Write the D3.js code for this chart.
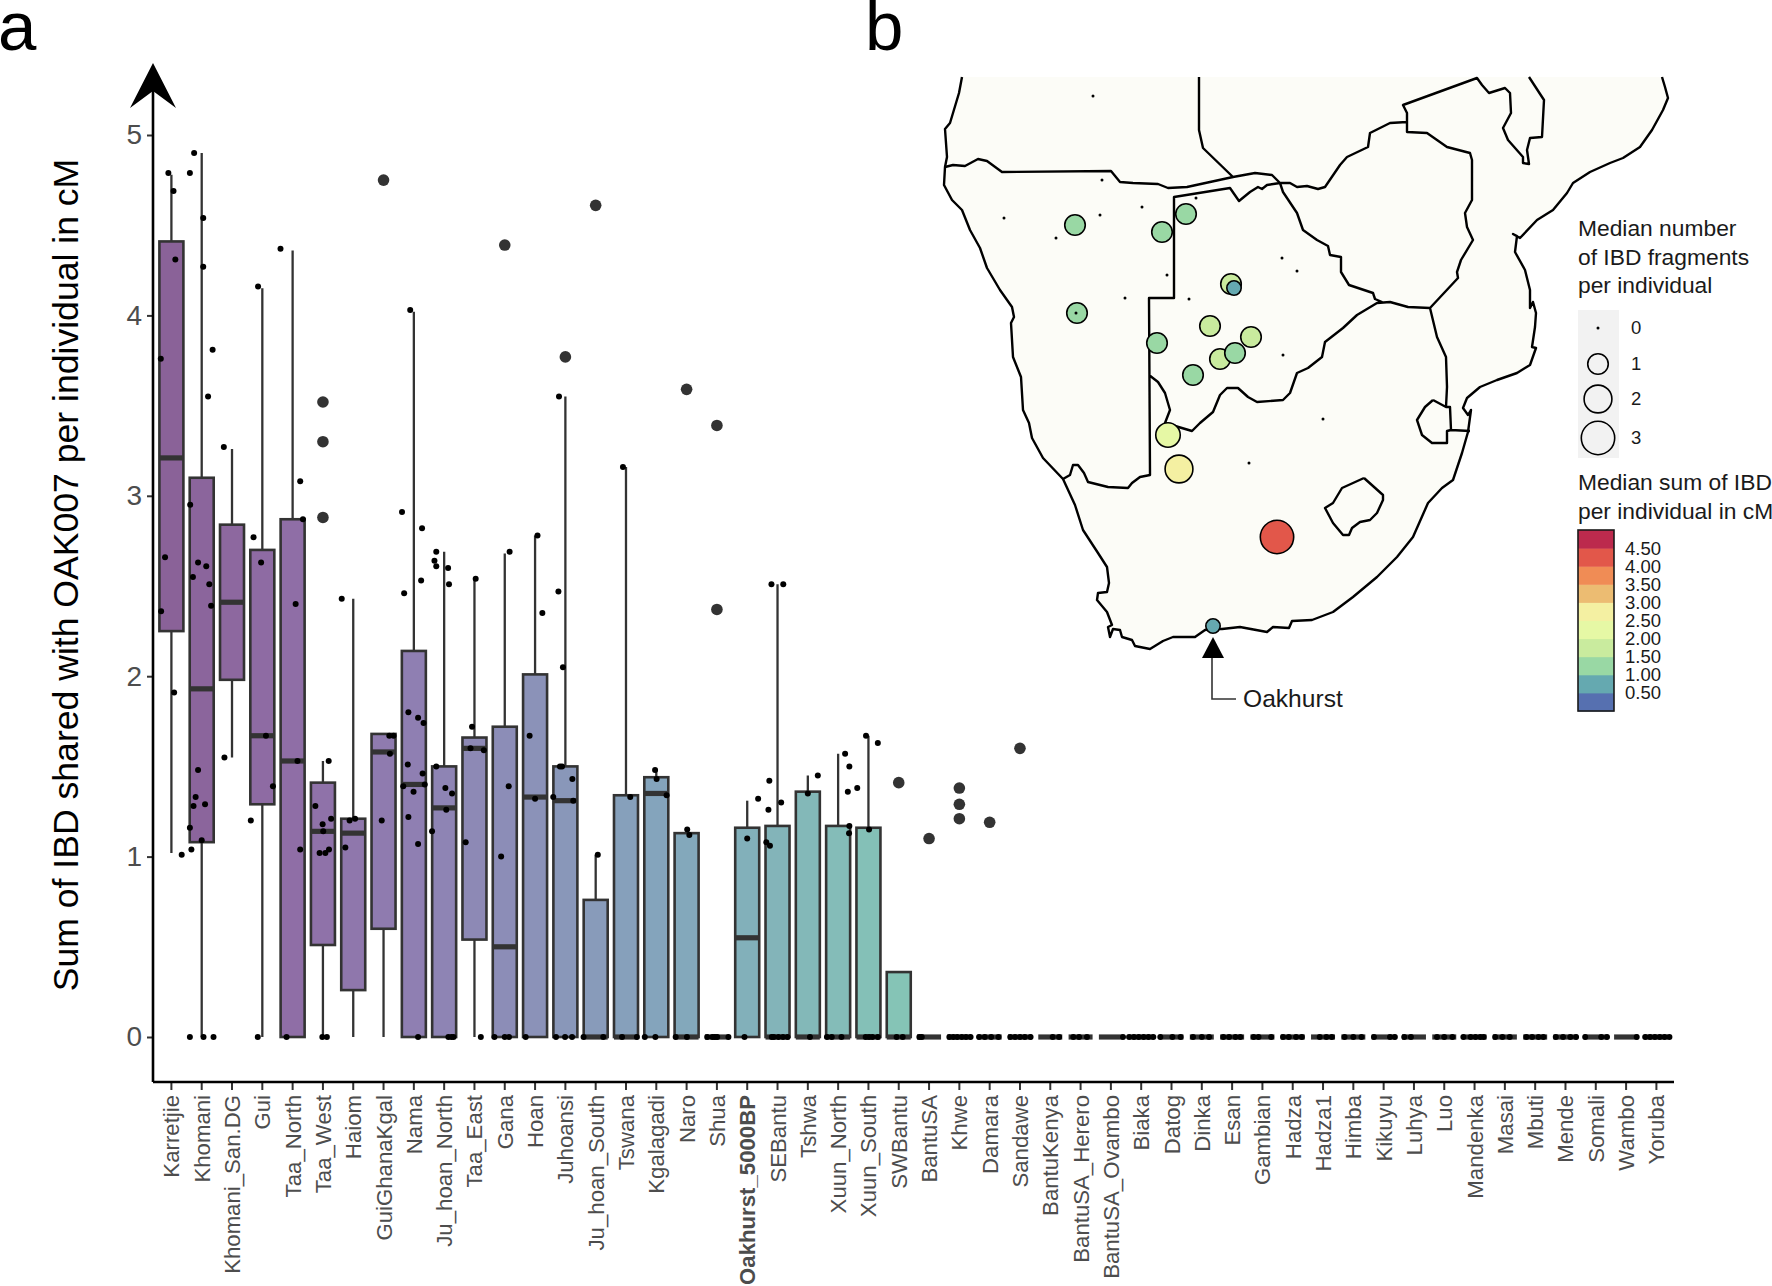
<!DOCTYPE html>
<html>
<head>
<meta charset="utf-8">
<script src="https://cdn.jsdelivr.net/npm/d3@7"></script>
<style>
  html, body { margin: 0; background: #fff; }
  text { font-family: "Liberation Sans", Arial, sans-serif; }
</style>
</head>
<body>
<div id="plot-container"></div>
<script>
const categories = ["Karretjie","Khomani","Khomani_San.DG","Gui","Taa_North","Taa_West","Haiom","GuiGhanaKgal","Nama","Ju_hoan_North","Taa_East","Gana","Hoan","Juhoansi","Ju_hoan_South","Tswana","Kgalagadi","Naro","Shua","Oakhurst_5000BP","SEBantu","Tshwa","Xuun_North","Xuun_South","SWBantu","BantuSA","Khwe","Damara","Sandawe","BantuKenya","BantuSA_Herero","BantuSA_Ovambo","Biaka","Datog","Dinka","Esan","Gambian","Hadza","Hadza1","Himba","Kikuyu","Luhya","Luo","Mandenka","Masai","Mbuti","Mende","Somali","Wambo","Yoruba"];

// box stats for the groups that have a real box, the rest sit on zero
const q1 =          [2.25,1.08,1.98,1.29,0,   0.51,0.26,0.60,0,   0,   0.54,0,   0,   0,   0,   0,   0,   0,   0,0,   0,   0,   0,   0,   0];
const medians =     [3.21,1.93,2.41,1.67,1.53,1.14,1.13,1.58,1.40,1.27,1.60,0.50,1.33,1.31,0,   0,   1.35,0,   0,0.55,0,   0,   0,   0,   0];
const q3 =          [4.41,3.10,2.84,2.70,2.87,1.41,1.21,1.68,2.14,1.50,1.66,1.72,2.01,1.50,0.76,1.34,1.44,1.13,0,1.16,1.17,1.36,1.17,1.16,0.36];
const whiskerLow =  [1.02,0,   1.55,0,   0,   0,   0,   0,   0,   0,   0,   0,   0,   0,   0,   0,   0,   0,   0,0,   0,   0,   0,   0,   0];
const whiskerHigh = [4.78,4.90,3.26,4.15,4.36,1.53,2.43,1.68,4.02,2.69,2.54,2.68,2.78,3.55,1.01,3.16,1.48,1.13,0,1.31,2.51,1.45,1.57,1.67,0.36];

const outliers = {
  Taa_West: [2.88,3.30,3.52], GuiGhanaKgal: [4.75], Gana: [4.39], Juhoansi: [3.77],
  Ju_hoan_South: [4.61], Naro: [3.59], Shua: [3.39,2.37], SWBantu: [1.41],
  BantuSA: [1.10], Khwe: [1.38,1.29,1.21], Damara: [1.19], Sandawe: [1.60]
};

// jittered individuals: [offset in category steps, value]
const jitter = {
  Karretjie: [[-.1,4.79],[.07,4.69],[.13,4.31],[-.35,3.76],[-.21,2.66],[-.34,2.36],[.09,1.91],[.34,1.01]],
  Khomani: [[-.25,4.9],[-.39,4.79],[.05,4.54],[.05,4.27],[.36,3.81],[.21,3.55],[-.38,2.95],[-.12,2.63],[.15,2.61],[-.29,2.55],[.25,2.51],[.31,2.39],[-.12,1.48],[-.2,1.33],[-.27,1.28],[.11,1.29],[-.39,1.16],[-.34,1.04],[0,1.09],[-.39,0],[.06,0],[.39,0]],
  "Khomani_San.DG": [[-.27,3.27],[-.25,1.55]],
  Gui: [[-.14,4.16],[-.29,2.77],[-.04,2.63],[.12,1.67],[.35,1.39],[-.38,1.2],[-.15,0]],
  Taa_North: [[-.4,4.37],[.25,3.08],[.34,2.87],[.1,2.4],[.16,1.53],[.25,1.04],[-.2,0]],
  Taa_West: [[.19,1.53],[-.25,1.28],[.27,1.21],[-.01,1.18],[.01,1.14],[-.11,1.02],[.08,1.02],[.2,1.04],[-.02,0],[.13,0]],
  Haiom: [[-.38,2.43],[-.12,1.2],[.06,1.21],[-.26,1.05]],
  GuiGhanaKgal: [[.19,1.67],[.33,1.67],[.21,1.57],[-.06,1.2]],
  Nama: [[-.39,2.91],[-.12,4.03],[.27,2.82],[-.32,2.46],[.24,2.53],[-.18,1.8],[.14,1.77],[.32,1.74],[-.2,1.51],[.29,1.46],[-.35,1.39],[.36,1.4],[-.01,1.36],[-.18,1.22],[.14,1.07],[.14,0]],
  Ju_hoan_North: [[-.26,2.69],[-.32,2.64],[-.26,2.61],[.13,2.6],[.16,2.51],[-.26,1.5],[.04,1.38],[.26,1.35],[.07,1.26],[-.4,1.14],[.14,0],[.24,0],[.31,0]],
  Taa_East: [[.04,2.54],[-.08,1.72],[-.13,1.6],[.31,1.59],[-.29,1.08],[.21,0]],
  Gana: [[.16,2.69],[.13,1.39],[-.12,1],[-.34,0],[0,0],[.14,0]],
  Hoan: [[.08,2.78],[.24,2.35],[-.18,1.67],[0,1.32],[-.31,0]],
  Juhoansi: [[-.21,3.55],[-.23,2.47],[-.08,2.05],[-.18,1.5],[-.11,1.5],[.23,1.43],[-.4,1.33],[.26,1.31],[-.31,0],[-.01,0],[.22,0]],
  Ju_hoan_South: [[.07,1.01],[-.4,0],[.25,0]],
  Tswana: [[-.1,3.16],[.14,1.33],[-.13,0],[.36,0]],
  Kgalagadi: [[-.04,1.48],[.01,1.43],[.34,1.34],[-.38,0],[-.03,0]],
  Naro: [[.02,1.15],[.09,1.12],[-.36,0],[.01,0]],
  Shua: [[-.32,0],[-.15,0],[-.07,0],[.01,0],[.38,0]],
  Oakhurst_5000BP: [[0,1.1],[.36,1.32],[-.09,0]],
  SEBantu: [[-.2,2.51],[.19,2.51],[-.27,1.42],[.12,1.3],[-.3,1.26],[-.37,1.08],[-.25,1.06],[-.19,0],[-.12,0],[.03,0],[.18,0],[.33,0]],
  Tshwa: [[.33,1.45],[0,1.35],[.07,0]],
  Xuun_North: [[.23,1.57],[.37,1.5],[.32,1.36],[.37,1.17],[.36,1.13],[-.37,0],[-.21,0],[.11,0]],
  Xuun_South: [[-.08,1.67],[.31,1.63],[-.37,1.38],[.02,1.15],[-.09,0],[.02,0],[.13,0],[.31,0]],
  SWBantu: [[-.07,0],[.13,0]],
  BantuSA: [[-.32,0],[-.24,0]],
  Khwe: [[-.33,0],[-.2,0],[-.07,0],[.08,0],[.22,0],[.37,0]],
  Damara: [[-.35,0],[-.16,0],[.05,0],[.29,0]],
  Sandawe: [[-.32,0],[-.16,0],[0,0],[.16,0],[.35,0]],
  BantuKenya: [[.08,0],[.29,0]],
  BantuSA_Herero: [[-.24,0],[-.05,0],[.21,0]],
  BantuSA_Ovambo: [[.4,0]],
  Biaka: [[-.4,0],[-.24,0],[-.08,0],[.08,0],[.24,0],[.4,0]],
  Datog: [[-.37,0],[.03,0],[.3,0]],
  Dinka: [[-.29,0],[0,0],[.24,0]],
  Esan: [[-.29,0],[-.1,0],[.11,0],[.27,0]],
  Gambian: [[-.29,0],[-.13,0],[.29,0]],
  Hadza: [[-.32,0],[-.13,0],[.11,0],[.3,0]],
  Hadza1: [[-.11,0],[.11,0],[.29,0]],
  Himba: [[-.29,0],[0,0],[.27,0]],
  Kikuyu: [[-.32,0],[.21,0],[.37,0]],
  Luhya: [[-.32,0],[-.1,0]],
  Luo: [[-.24,0],[0,0],[.27,0]],
  Mandenka: [[-.37,0],[-.13,0],[.03,0],[.19,0],[.3,0]],
  Masai: [[-.32,0],[-.08,0],[.16,0]],
  Mbuti: [[-.29,0],[-.1,0],[.11,0],[.27,0]],
  Mende: [[-.32,0],[-.08,0],[.16,0],[.35,0]],
  Somali: [[-.35,0],[.18,0],[.37,0]],
  Wambo: [[.35,0]],
  Yoruba: [[-.37,0],[-.21,0],[-.05,0],[.11,0],[.27,0],[.43,0]]
};

const boxColors = ["#8a6298","#8f6ea6","#8f7fb2","#8b92b8","#84a4bc","#82b0ba","#85c4b6"];
const boxColorIndex = [0,4,8,12,16,19,24];

// traced map outlines, planar map coordinates
const landOutline = [[962,77],[959,93],[953,113],[950,123],[945,129],[947,157],[945,167],[944,185],[952,200],[962,210],[970,230],[980,248],[987,268],[1000,290],[1012,307],[1014,317],[1011,323],[1013,357],[1021,377],[1023,410],[1029,423],[1032,438],[1043,458],[1063,479],[1075,505],[1083,530],[1098,553],[1107,567],[1109,583],[1107,592],[1098,593],[1097,600],[1107,612],[1112,625],[1108,627],[1110,637],[1113,629],[1120,630],[1122,637],[1132,640],[1135,646],[1150,649],[1163,641],[1173,637],[1195,637],[1205,630],[1213,629],[1222,629],[1240,627],[1267,632],[1273,627],[1289,628],[1292,621],[1312,620],[1333,612],[1353,597],[1377,577],[1397,557],[1413,537],[1428,503],[1442,488],[1453,480],[1462,453],[1468,432],[1471,410],[1468,415],[1463,408],[1467,398],[1480,387],[1497,380],[1517,373],[1530,365],[1536,348],[1532,347],[1535,327],[1536,313],[1533,302],[1530,308],[1530,290],[1525,270],[1515,252],[1517,236],[1513,234],[1520,238],[1537,220],[1553,210],[1567,193],[1573,183],[1590,172],[1610,163],[1623,158],[1640,147],[1652,130],[1663,110],[1668,98],[1665,87],[1662,77]];

const borderLines = [
  [[945,167],[953,165],[965,166],[978,159],[987,161],[1002,172],[1111,171],[1120,182],[1133,183],[1158,184],[1168,188],[1187,187],[1233,177],[1255,173],[1272,175],[1280,183],[1290,183],[1297,187],[1307,186],[1318,189],[1325,187],[1340,165],[1347,157],[1368,147],[1370,133],[1390,123],[1407,122]],
  [[1199,77],[1199,130],[1203,148],[1233,177]],
  [[1280,183],[1267,185],[1262,189],[1258,187],[1250,192],[1239,201],[1230,188],[1174,197],[1174,298],[1149,298],[1150,475],[1140,477],[1132,483],[1128,488],[1108,487],[1088,482],[1084,473],[1078,465],[1073,465],[1070,475],[1063,479]],
  [[1149,375],[1158,382],[1165,393],[1170,410],[1165,423],[1192,431],[1200,423],[1213,412],[1220,395],[1227,388],[1238,388],[1248,397],[1257,402],[1283,400],[1290,393],[1297,373],[1308,368],[1322,357],[1325,342],[1343,328],[1357,315],[1377,303],[1390,302],[1408,307],[1430,308]],
  [[1280,183],[1283,192],[1297,213],[1303,230],[1317,240],[1328,246],[1330,255],[1341,257],[1341,272],[1349,285],[1373,293],[1375,299],[1382,302]],
  [[1430,308],[1458,278],[1457,272],[1461,260],[1473,240],[1467,227],[1465,213],[1472,200],[1472,160],[1470,153],[1447,147],[1437,140],[1427,133],[1407,132],[1407,113],[1403,105],[1477,78],[1482,85],[1489,93],[1505,88],[1510,93],[1511,113],[1503,128],[1508,140],[1523,157],[1523,163],[1529,164],[1527,150],[1530,138],[1542,137],[1544,100],[1529,77]],
  [[1430,308],[1437,337],[1446,357],[1447,387],[1446,407]],
  [[1433,400],[1446,407],[1450,407],[1451,430],[1447,431],[1447,443],[1432,443],[1422,435],[1417,420],[1425,407],[1433,400]],
  [[1451,430],[1470,431]],
  [[1364,478],[1383,495],[1383,500],[1377,513],[1370,520],[1360,522],[1352,528],[1349,535],[1343,535],[1333,523],[1325,508],[1333,503],[1342,488],[1353,483],[1364,478]]
];

// [map x, map y, median fragments, median sum]
const sites = [
  [1093,96,0,0],[1102,180,0,0],[1142,207,0,0],[1100,215,0,0],[1004,218,0,0],[1056,238,0,0],[1196,198,0,0],[1167,275,0,0],[1125,298,0,0],[1189,299,0,0],[1282,258,0,0],[1297,271,0,0],[1283,355,0,0],[1323,419,0,0],[1249,463,0,0],
  [1075,225,1,1.2],[1162,232,1,1.2],[1186,214,1,1.2],[1231,284,1,1.7],[1234,288,.42,.8],[1077,313,1,1.2],[1210,326,1,1.7],[1251,337,1,1.7],[1157,343,1,1.2],[1220,359,1,1.7],[1235,353,1,1.2],[1193,375,1,1.2],
  [1168,435,1.5,2.2],[1179,469,2,2.7],[1277,537,3,4.2],[1213,626,.42,.8],[1076,313,0,0]
];
const oakhurstSite = [1213,626];

const sizeLegend = [0,1,2,3];
const sizeLegendY = [0,36,71,110];
const colorThresholds = [0.5,1,1.5,2,2.5,3,3.5,4,4.5];
const colorRange = ["#5670b0","#65a9b0","#99d8a4","#c9eb9e","#e6f8a5","#f4f0a2","#ecbc72","#f08c55","#e2574a","#bc2a4d"];
const colorLabels = ["0.50","1.00","1.50","2.00","2.50","3.00","3.50","4.00","4.50"];

const width = 1772, height = 1286;
const svg = d3.select("#plot-container").append("svg")
  .attr("width", width).attr("height", height).style("display", "block");

// ---- panel a
const x = d3.scalePoint().domain(categories).range([171.4, 1656.4]);
const y = d3.scaleLinear().domain([0, 5]).range([1037, 135]);
const boxFill = d3.scaleLinear().domain(boxColorIndex).range(boxColors);
const boxWidth = 24;
const dark = "#333333";

const boxes = svg.append("g");
categories.forEach((name, i) => {
  const cx = x(name);
  const g = boxes.append("g");
  const low = i < q1.length ? q1[i] : 0, mid = i < q1.length ? medians[i] : 0, high = i < q1.length ? q3[i] : 0;
  if (i < q1.length) {
    g.append("line").attr("x1", cx).attr("x2", cx).attr("y1", y(whiskerLow[i])).attr("y2", y(whiskerHigh[i]))
      .attr("stroke", dark).attr("stroke-width", 2.3);
  }
  g.append("rect").attr("x", cx - boxWidth / 2).attr("width", boxWidth)
    .attr("y", y(high)).attr("height", y(low) - y(high))
    .attr("fill", i < q1.length ? boxFill(i) : "none").attr("stroke", dark).attr("stroke-width", 2.6);
  g.append("line").attr("x1", cx - boxWidth / 2).attr("x2", cx + boxWidth / 2).attr("y1", y(mid)).attr("y2", y(mid))
    .attr("stroke", dark).attr("stroke-width", 5.2);
  g.selectAll(".outlier").data(outliers[name] || []).join("circle").attr("class", "outlier")
    .attr("cx", cx).attr("cy", d => y(d)).attr("r", 5.8).attr("fill", dark);
});

svg.append("g").selectAll("circle")
  .data(categories.flatMap(name => (jitter[name] || []).map(p => [x(name) + p[0] * x.step(), p[1]])))
  .join("circle")
  .attr("cx", d => d[0]).attr("cy", d => y(d[1])).attr("r", 3).attr("fill", "#000");

// axes
const yAxis = svg.append("g").attr("transform", "translate(153,0)")
  .call(d3.axisLeft(y).tickValues([0,1,2,3,4,5]).tickFormat(d3.format("d")).tickSize(6).tickPadding(5));
yAxis.select(".domain").remove();
yAxis.selectAll("line").attr("stroke", "#333").attr("stroke-width", 2);
yAxis.selectAll("text").attr("font-size", 28).attr("fill", "#4d4d4d")
  .style("font-family", '"Liberation Sans", Arial, sans-serif');

const xAxis = svg.append("g").attr("transform", "translate(0,1082)")
  .call(d3.axisBottom(x).tickSize(8).tickPadding(0));
xAxis.select(".domain").remove();
xAxis.selectAll("line").attr("stroke", "#333").attr("stroke-width", 2);
xAxis.selectAll("text")
  .attr("transform", "translate(0,13) rotate(-90)")
  .attr("x", 0).attr("y", 0).attr("dy", "0.36em")
  .attr("text-anchor", "end").attr("font-size", 22.2).attr("fill", "#4d4d4d")
  .style("font-family", '"Liberation Sans", Arial, sans-serif')
  .attr("font-weight", d => d === "Oakhurst_5000BP" ? "bold" : "normal");
// labels need the tick position back once the rotation replaces the default y/x
xAxis.selectAll(".tick").attr("transform", d => `translate(${x(d)},0)`);

svg.append("path").attr("d", "M153,1082V80M153,1082H1674").attr("fill", "none").attr("stroke", "#000").attr("stroke-width", 2.6);
svg.append("path").attr("d", "M153,63L176,108L153,91L130,108Z").attr("fill", "#000");

svg.append("text").attr("transform", "translate(78,575) rotate(-90)")
  .attr("text-anchor", "middle").attr("font-size", 35.6).attr("fill", "#000")
  .text("Sum of IBD shared with OAK007 per individual in cM");

svg.append("text").attr("x", -2).attr("y", 50).attr("font-size", 69).attr("fill", "#000").text("a");
svg.append("text").attr("x", 865).attr("y", 50).attr("font-size", 69).attr("fill", "#000").text("b");

// ---- panel b
const projection = d3.geoIdentity();
const geoPath = d3.geoPath(projection);
const radius = d3.scaleSqrt().domain([0, 3]).range([1.5, 16.7]);
const color = d3.scaleThreshold().domain(colorThresholds).range(colorRange);

svg.append("path")
  .datum({ type: "Polygon", coordinates: [landOutline.concat([landOutline[0]])] })
  .attr("d", geoPath).attr("fill", "#fcfcf7").attr("stroke", "none");
svg.append("path")
  .datum({ type: "LineString", coordinates: landOutline })
  .attr("d", geoPath).attr("fill", "none").attr("stroke", "#000").attr("stroke-width", 2.4).attr("stroke-linejoin", "round");
svg.append("path")
  .datum({ type: "MultiLineString", coordinates: borderLines })
  .attr("d", geoPath).attr("fill", "none").attr("stroke", "#000").attr("stroke-width", 2.4).attr("stroke-linejoin", "round");

svg.append("g").selectAll("circle").data(sites).join("circle")
  .attr("cx", d => projection(d)[0]).attr("cy", d => projection(d)[1])
  .attr("r", d => radius(d[2]))
  .attr("fill", d => d[2] === 0 ? "#000" : color(d[3]))
  .attr("stroke", d => d[2] === 0 ? "none" : "#000").attr("stroke-width", 1.6);

// Oakhurst callout
const [oakX, oakY] = projection(oakhurstSite);
svg.append("path").attr("d", `M${oakX},${oakY + 11}l11,21h-22Z`).attr("fill", "#000");
svg.append("path").attr("d", `M${oakX - 1},${oakY + 32}V699H1236`).attr("fill", "none").attr("stroke", "#333").attr("stroke-width", 1.6);
svg.append("text").attr("x", 1243).attr("y", 707).attr("font-size", 24.6).attr("fill", "#1a1a1a").text("Oakhurst");

// size legend
const legendTitle = (lines, top) => lines.forEach((t, i) =>
  svg.append("text").attr("x", 1578).attr("y", top + i * 28.7).attr("font-size", 22.8).attr("fill", "#1a1a1a").text(t));
legendTitle(["Median number", "of IBD fragments", "per individual"], 236);
svg.append("rect").attr("x", 1578).attr("y", 310).attr("width", 41).attr("height", 148).attr("fill", "#f2f2f2");
sizeLegend.forEach((v, i) => {
  svg.append("circle").attr("cx", 1598).attr("cy", 328 + sizeLegendY[i]).attr("r", radius(v))
    .attr("fill", v === 0 ? "#000" : "none").attr("stroke", v === 0 ? "none" : "#000").attr("stroke-width", 1.6);
  svg.append("text").attr("x", 1631).attr("y", 328 + sizeLegendY[i]).attr("dy", "0.35em")
    .attr("font-size", 18.5).attr("fill", "#1a1a1a").text(v);
});

// colour legend
legendTitle(["Median sum of IBD", "per individual in cM"], 490);
const bar = d3.scaleLinear().domain([0, colorRange.length]).range([711, 530]);
colorRange.forEach((c, i) => {
  svg.append("rect").attr("x", 1578).attr("width", 36).attr("y", bar(i + 1)).attr("height", bar(i) - bar(i + 1) + 0.5).attr("fill", c);
});
svg.append("rect").attr("x", 1578).attr("y", 530).attr("width", 36).attr("height", 181).attr("fill", "none").attr("stroke", "#1a1a1a").attr("stroke-width", 1.6);
colorLabels.forEach((t, i) => {
  svg.append("text").attr("x", 1625).attr("y", bar(i + 1)).attr("dy", "0.35em")
    .attr("font-size", 18.5).attr("fill", "#1a1a1a").text(t);
});
</script>
</body>
</html>
